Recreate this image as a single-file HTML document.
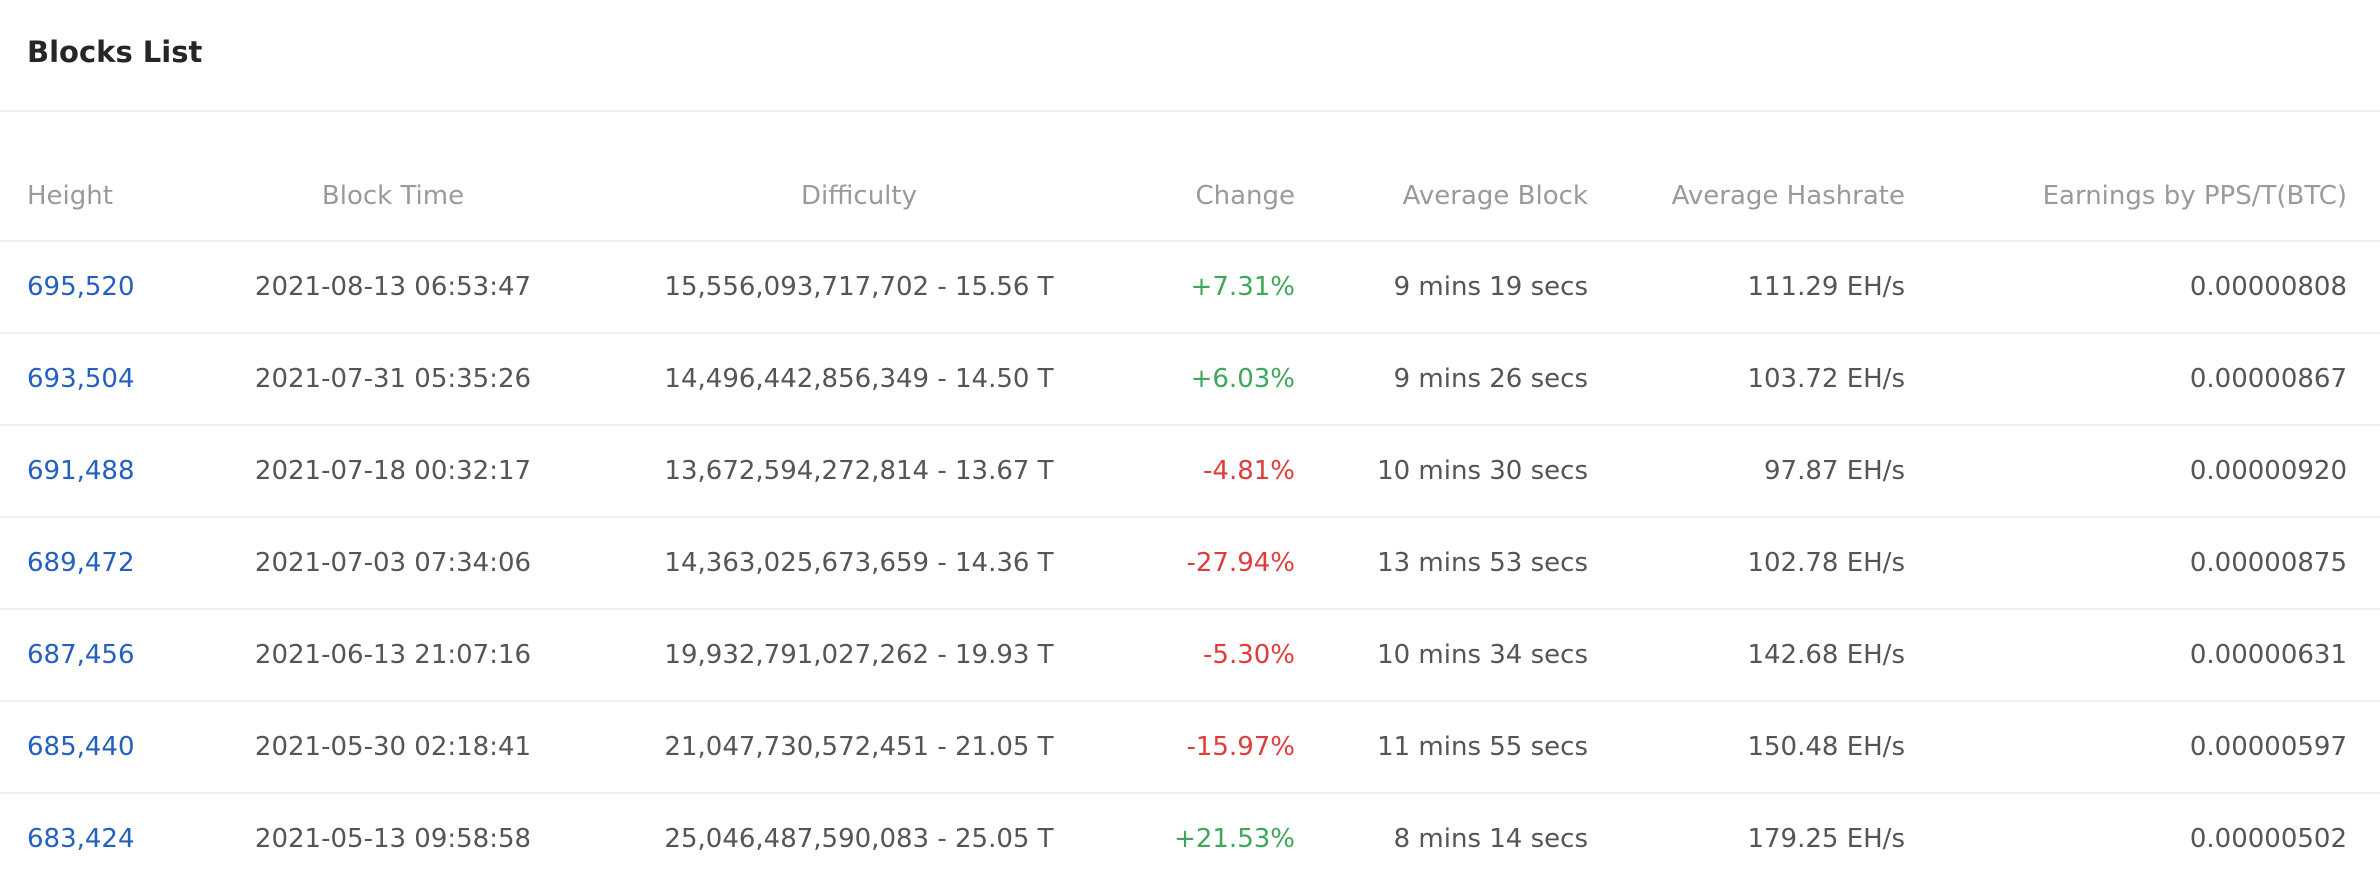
<!DOCTYPE html>
<html><head><meta charset="utf-8"><style>
html,body{margin:0;padding:0;background:#fff;}
body{width:2380px;height:882px;position:relative;overflow:hidden;font-family:"DejaVu Sans","Liberation Sans",sans-serif;}
.title{position:absolute;left:27px;top:30px;font-size:29px;font-weight:bold;color:#262626;line-height:44px;}
.hr{position:absolute;left:0;width:2380px;height:2px;background:#f0f0f4;}
.cell{position:absolute;font-size:26px;line-height:40px;white-space:nowrap;color:#555;}
.hd{color:#9a9a9a;}
.l{text-align:left;}
.c{transform:translateX(-50%);}
.r{transform:translateX(-100%);}
.blue{color:#2460c0;}
.green{color:#3ea85a;}
.red{color:#e03c3c;}
</style></head><body>
<div class="title">Blocks List</div>
<div class="hr" style="top:110px"></div>
<div id="tbl"></div>
<script>
const heights=["695,520","693,504","691,488","689,472","687,456","685,440","683,424"];
const times=["2021-08-13 06:53:47","2021-07-31 05:35:26","2021-07-18 00:32:17","2021-07-03 07:34:06","2021-06-13 21:07:16","2021-05-30 02:18:41","2021-05-13 09:58:58"];
const diffs=["15,556,093,717,702 - 15.56 T","14,496,442,856,349 - 14.50 T","13,672,594,272,814 - 13.67 T","14,363,025,673,659 - 14.36 T","19,932,791,027,262 - 19.93 T","21,047,730,572,451 - 21.05 T","25,046,487,590,083 - 25.05 T"];
const changes=["+7.31%","+6.03%","-4.81%","-27.94%","-5.30%","-15.97%","+21.53%"];
const avgBlocks=["9 mins 19 secs","9 mins 26 secs","10 mins 30 secs","13 mins 53 secs","10 mins 34 secs","11 mins 55 secs","8 mins 14 secs"];
const hashrates=["111.29 EH/s","103.72 EH/s","97.87 EH/s","102.78 EH/s","142.68 EH/s","150.48 EH/s","179.25 EH/s"];
const earnings=["0.00000808","0.00000867","0.00000920","0.00000875","0.00000631","0.00000597","0.00000502"];
const headers=["Height","Block Time","Difficulty","Change","Average Block","Average Hashrate","Earnings by PPS/T(BTC)"];
const cols=[{x:27,a:'l'},{x:393,a:'c'},{x:859,a:'c'},{x:1295,a:'r'},{x:1588,a:'r'},{x:1905,a:'r'},{x:2347,a:'r'}];
const names=["height","block-time","difficulty","change","average-block","average-hashrate","earnings"];
const tbl=document.getElementById('tbl');
function cell(txt,ci,cy,cls,name,inter){
  const d=document.createElement('div');
  d.className='cell '+cols[ci].a+' '+cls;
  d.style.left=cols[ci].x+'px';
  d.style.top=(cy-20)+'px';
  d.textContent=txt;
  
  
  tbl.appendChild(d);
}
headers.forEach((h,i)=>cell(h,i,196,'hd',names[i]+'-header',false));
const top0=240,pitch=92;
function line(y){const l=document.createElement('div');l.className='hr';l.style.top=y+'px';


tbl.appendChild(l);}
line(top0);
heights.forEach((h,r)=>{
  const cy=top0+pitch*r+47;
  cell(h,0,cy,'blue','height-link',true);
  cell(times[r],1,cy,'','block-time',false);
  cell(diffs[r],2,cy,'','difficulty',false);
  cell(changes[r],3,cy,changes[r][0]==='+'?'green':'red','change',false);
  cell(avgBlocks[r],4,cy,'','average-block',false);
  cell(hashrates[r],5,cy,'','average-hashrate',false);
  cell(earnings[r],6,cy,'','earnings',false);
  if(r<heights.length-1) line(top0+pitch*(r+1));
});
</script>
</body></html>
